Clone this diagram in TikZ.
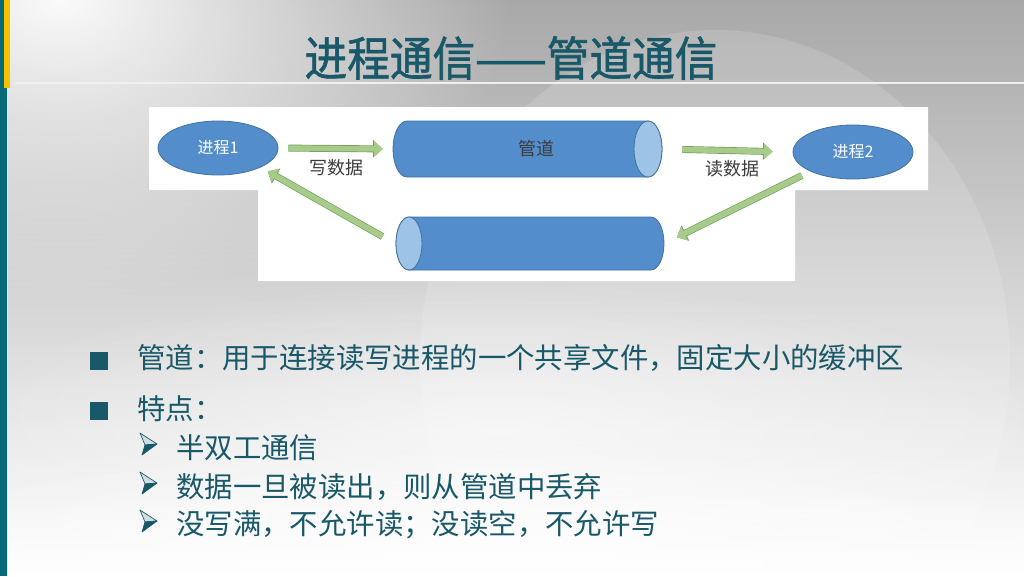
\documentclass[tikz,border=0pt]{standalone}
\usepackage{fontspec}
\setmainfont{Noto Sans CJK SC}
\newfontfamily\cjkfont{Noto Sans CJK SC}
\newfontfamily\titlefont[FakeBold=1.3]{Noto Sans CJK SC}
\usetikzlibrary{fadings,calc,shapes.geometric,arrows.meta}
\definecolor{teal1}{RGB}{8,106,120}
\definecolor{gold1}{RGB}{245,194,0}
\definecolor{txt}{RGB}{24,88,104}
\definecolor{pblue}{RGB}{83,141,204}
\definecolor{pedge}{RGB}{65,113,156}
\definecolor{pcap}{RGB}{157,195,230}
\definecolor{agreen}{RGB}{166,203,138}
\definecolor{aedge}{RGB}{116,156,92}
\definecolor{lbl}{RGB}{60,60,60}
\definecolor{bgtop}{RGB}{168,168,168}
\definecolor{bgmid}{RGB}{212,212,212}
\tikzfading[name=myglow, inner color=transparent!0, outer color=transparent!100]
\tikzset{
  proc/.style={ellipse, fill=pblue, draw=pedge, line width=0.6pt, minimum width=90pt, minimum height=40.5pt, inner sep=0pt, text=white, font=\cjkfont\fontsize{12}{14}\selectfont},
  pipebox/.style={rectangle, inner sep=0pt, minimum height=42pt},
  lbltext/.style={text=lbl, font=\cjkfont\fontsize{13.5}{16}\selectfont, inner sep=0pt},
  garrow/.style={draw=agreen, line width=4.2pt, -{Triangle[length=6.5pt,width=11pt,fill=agreen]},
     preaction={draw=aedge, line width=5.2pt, -{Triangle[length=7.2pt,width=12.5pt]}}},
  sq/.style={rectangle, fill=txt, minimum size=14pt, inner sep=0pt},
  btext/.style={anchor=west, text=txt, inner sep=0pt, font=\cjkfont\fontsize{21.3}{25}\selectfont},
  abul/.pic={
    \filldraw[fill=white!80!txt, draw=txt, line width=0.5pt, line join=round] (-9,-11) -- (8,0) -- (-4,1) -- cycle;
    \filldraw[fill=txt, draw=txt, line width=0.5pt, line join=round] (-4,1) -- (8,0) -- (-7,11) -- cycle;
  },
}
\begin{document}
\begin{tikzpicture}[x=0.75pt,y=-0.75pt]
\useasboundingbox (0,0) rectangle (1024,576);
% background
\shade[top color=bgtop, middle color=bgmid, bottom color=white] (0,0) rectangle (1024,576);
\fill[white, path fading=myglow, opacity=0.95] (60,0) ellipse[x radius=450, y radius=300];
\fill[white, opacity=0.14] (715,360) ellipse[x radius=295, y radius=330];
\fill[white, path fading=myglow, opacity=0.6] (500,430) ellipse[x radius=560, y radius=150];
\fill[white, path fading=myglow, opacity=0.8] (500,560) ellipse[x radius=700, y radius=120];
% title line
\draw[white!88!gray, line width=1.6pt] (15,83) -- (1024,83);
% left bars
\fill[teal1] (0,0) rectangle (7,576);
\draw[white!80!gray, line width=0.6pt] (7.6,0) -- (7.6,576);
\fill[gold1] (3.5,0) rectangle (9.5,88);
% title
\node[text=txt, font=\titlefont\fontsize{32}{36}\selectfont, inner sep=0pt] (title) at (511,58) {\scalebox{1}[1.1]{进程通信——管道通信}};
% diagram panel
\fill[white] (149,107) -- (928,107) -- (928,190) -- (795,190) -- (795,281) -- (258,281) -- (258,190) -- (149,190) -- cycle;
% top pipe
\filldraw[fill=pblue, draw=pedge, line width=0.6pt] (648,121) -- (407,121) arc[start angle=270, end angle=90, x radius=14, y radius=28] -- (648,177) arc[start angle=90, end angle=-90, x radius=14, y radius=28] -- cycle;
\filldraw[fill=pcap, draw=pedge, line width=0.6pt] (648,149) ellipse[x radius=14, y radius=28];
\node[pipebox, minimum width=201.75pt] (pipeA) at (527.5,149) {};
\node[lbltext] (pipeAlbl) at (536,149) {管道};
% bottom pipe
\filldraw[fill=pblue, draw=pedge, line width=0.6pt] (409,217) -- (651,217) arc[start angle=270, end angle=450, x radius=13, y radius=26.5] -- (409,270) arc[start angle=90, end angle=270, x radius=13, y radius=26.5] -- cycle;
\filldraw[fill=pcap, draw=pedge, line width=0.6pt] (409,243.5) ellipse[x radius=13, y radius=26.5];
\node[pipebox, minimum width=201.75pt] (pipeB) at (529.5,243.5) {};
% processes
\node[proc] (p1) at (218,148) {进程1};
\node[proc] (p2) at (853,152) {进程2};
% arrows
\draw[garrow, shorten <=7.5pt, shorten >=7.5pt] (p1.east) -- (pipeA.west);
\draw[garrow, shorten <=15pt, shorten >=15pt] (pipeA.east) -- (p2.west);
\draw[garrow, shorten <=7pt, shorten >=10.5pt] (p2.south west) -- (pipeB.east);
\draw[garrow, shorten <=10.5pt, shorten >=6pt] (pipeB.west) -- (p1.south east);
\node[lbltext] (wlbl) at (336,168) {写数据};
\node[lbltext] (rlbl) at (732,169) {读数据};
% bullets
\node[sq] (b1) at (99,361) {};
\node[sq] (b2) at (99,411) {};
\node[btext] (t1) at (137,358) {管道：用于连接读写进程的一个共享文件，固定大小的缓冲区};
\node[btext] (t2) at (137,409) {特点：};
\pic at (149,444) {abul};
\pic at (149,483) {abul};
\pic at (149,521) {abul};
\node[btext] (u1) at (176,448) {半双工通信};
\node[btext] (u2) at (176,487) {数据一旦被读出，则从管道中丢弃};
\node[btext] (u3) at (176,525) {没写满，不允许读；没读空，不允许写};
\end{tikzpicture}
\end{document}
